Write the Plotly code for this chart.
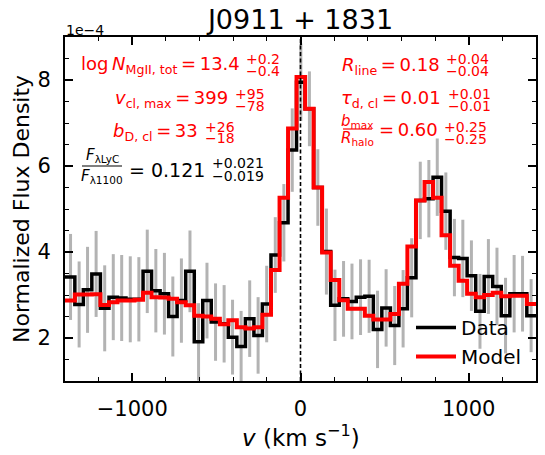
import plotly.graph_objects as go

# velocity bin centres (km/s) and normalised flux density (units of 1e-4)
velocity = [-1418, -1367, -1316, -1266, -1215, -1164, -1113, -1063, -1012, -961,
            -911, -860, -809, -759, -708, -657, -606, -556, -505, -454,
            -404, -353, -302, -252, -201, -150, -99, -49, 2, 53,
            103, 154, 205, 256, 306, 357, 408, 458, 509, 560,
            610, 661, 712, 763, 813, 864, 915, 965, 1016, 1067,
            1117, 1168, 1219, 1270, 1320, 1371, 1422]

flux_data = [3.42, 3.42, 2.78, 3.12, 3.49, 2.69, 2.95, 2.93, 2.90, 2.90,
             3.55, 3.10, 3.03, 2.50, 2.87, 3.55, 1.91, 2.87, 2.37, 2.33,
             2.02, 1.80, 2.45, 2.06, 2.79, 3.93, 4.68, 6.37, 7.95, 7.33,
             5.50, 4.01, 2.76, 2.91, 2.85, 2.95, 2.97, 2.20, 2.70, 2.29,
             2.68, 3.40, 5.20, 5.24, 5.74, 4.95, 3.87, 3.85, 3.45, 2.62,
             3.43, 3.20, 2.52, 3.03, 3.03, 2.52, 2.52]

flux_err = [1.0, 1.0, 1.0, 1.0, 1.0, 1.0, 1.0, 1.0, 1.0, 0.98,
            0.97, 0.97, 0.95, 0.93, 0.98, 0.95, 0.9, 0.88, 0.9, 0.9,
            0.87, 0.83, 0.89, 0.89, 0.89, 0.88, 0.9, 0.97, 0.9, 0.87,
            0.89, 1.0, 0.83, 0.88, 0.88, 0.88, 0.85, 0.9, 0.9, 0.92,
            0.9, 0.92, 0.9, 0.9, 0.9, 0.9, 0.9, 0.9, 0.82, 0.87,
            0.87, 0.9, 0.88, 0.9, 0.88, 0.85, 0.85]

flux_model = [2.87, 2.87, 3.01, 3.01, 3.02, 2.77, 2.83, 2.87, 2.87, 2.89,
              3.05, 2.95, 2.94, 2.91, 2.83, 2.76, 2.52, 2.50, 2.45, 2.32,
              2.41, 2.25, 2.22, 2.25, 2.54, 3.58, 5.26, 6.87, 8.07, 7.33,
              5.50, 3.99, 3.35, 2.88, 2.68, 2.68, 2.52, 2.43, 2.43, 2.56,
              3.26, 4.13, 5.20, 5.63, 5.26, 4.39, 3.68, 3.33, 3.03, 2.95,
              3.00, 3.05, 2.97, 2.98, 2.98, 2.79, 2.79]

FONT = "DejaVu Sans"
W, H = 545, 455
L, R, T, B = 65, 9, 37, 74


def px(x):
    return (x - L) / (W - L - R)


def py(y):
    return (H - B - y) / (H - T - B)


def label(x, y, s, size=18, color="red", xanchor="left", yanchor="middle", angle=0):
    return dict(x=px(x), y=py(y), xref="paper", yref="paper", text=s,
                showarrow=False, xanchor=xanchor, yanchor=yanchor, textangle=angle,
                font=dict(size=size, color=color, family=FONT))


fig = go.Figure()

# error bars
fig.add_trace(go.Scatter(
    x=velocity, y=flux_data, mode="markers",
    marker=dict(size=1, color="rgba(0,0,0,0)"),
    error_y=dict(type="data", array=flux_err, color="#b3b3b3", thickness=3, width=0),
    showlegend=False, hoverinfo="skip"))

fig.add_trace(go.Scatter(
    x=velocity, y=flux_data, mode="lines", line_shape="hvh",
    line=dict(color="black", width=3.5), name="Data"))

fig.add_trace(go.Scatter(
    x=velocity, y=flux_model, mode="lines", line_shape="hvh",
    line=dict(color="#ff0000", width=4), name="Model"))

fig.add_vline(x=0, line=dict(color="black", dash="4px,2.5px", width=1.6), layer="above")

SUP = 14
ts = "\u2009"
ann = [
    # left block
    label(242, 65, f"log{ts}<i>N</i><sub>MgII, tot</sub>{ts}={ts}13.4", xanchor="right"),
    label(282, 69, "+0.2", size=SUP, xanchor="right", yanchor="bottom"),
    label(282, 61, "\u22120.4", size=SUP, xanchor="right", yanchor="top"),
    label(230, 99, f"<i>v</i><sub>cl, max</sub>{ts}={ts}399", xanchor="right"),
    label(233, 104, "+95", size=SUP, yanchor="bottom"),
    label(233, 96, "\u221278", size=SUP, yanchor="top"),
    label(200, 132, f"<i>b</i><sub>D, cl</sub>{ts}={ts}33", xanchor="right"),
    label(203, 137, "+26", size=SUP, yanchor="bottom"),
    label(203, 128, "\u221218", size=SUP, yanchor="top"),
    label(102, 155, "<i>F</i><sub>\u03bbLyC</sub>", size=15, color="black", xanchor="center"),
    label(102, 177, "<i>F</i><sub>\u03bb1100</sub>", size=15, color="black", xanchor="center"),
    label(207, 170, "= 0.121", size=19, color="black", xanchor="right"),
    label(210, 173, "+0.021", size=SUP, color="black", yanchor="bottom"),
    label(210, 166, "\u22120.019", size=SUP, color="black", yanchor="top"),
    # right block
    label(442, 66, f"<i>R</i><sub>line</sub>{ts}={ts}0.18", xanchor="right"),
    label(444, 69, "+0.04", size=SUP, yanchor="bottom"),
    label(444, 61, "\u22120.04", size=SUP, yanchor="top"),
    label(443, 99, f"<i>\u03c4</i><sub>d, cl</sub>{ts}={ts}0.01", xanchor="right"),
    label(446, 104, "+0.01", size=SUP, yanchor="bottom"),
    label(446, 96, "\u22120.01", size=SUP, yanchor="top"),
    label(357, 121, "<i>b</i><sub>max</sub>", size=15, xanchor="center"),
    label(357, 138, "<i>R</i><sub>halo</sub>", size=15, xanchor="center"),
    label(440, 129, f"={ts}0.60", xanchor="right"),
    label(442, 137, "+0.25", size=SUP, yanchor="bottom"),
    label(442, 129, "\u22120.25", size=SUP, yanchor="top"),
    # offset text and axis titles
    label(64, 30, "1e\u22124", size=14, color="black"),
    label(21, 209, "Normalized Flux Density", size=22, color="black",
          xanchor="center", angle=-90),
    label(301, 436, "<i>v</i> (km s<sup>\u22121</sup>)", size=23, color="black",
          xanchor="center"),
]

shapes = [
    dict(type="line", xref="paper", yref="paper", x0=px(82), x1=px(122),
         y0=py(166), y1=py(166), line=dict(color="black", width=1.2)),
    dict(type="line", xref="paper", yref="paper", x0=px(343), x1=px(372),
         y0=py(129), y1=py(129), line=dict(color="red", width=1.2)),
]
for s in shapes:
    fig.add_shape(**s)

axis_common = dict(
    ticks="inside", ticklen=8, tickwidth=1.5, tickcolor="black",
    showline=True, linewidth=2, linecolor="black", mirror="ticks",
    showgrid=False, zeroline=False, automargin=False,
    tickfont=dict(size=21, family=FONT, color="black"),
)

fig.update_xaxes(
    range=[-1400, 1400], tick0=0, dtick=1000,
    minor=dict(ticks="inside", dtick=200, ticklen=4, tickwidth=1.2, tickcolor="black"),
    ticklabelstandoff=8,
    **axis_common)

fig.update_yaxes(
    range=[1, 9], tick0=0, dtick=2,
    minor=dict(ticks="inside", dtick=0.5, ticklen=4, tickwidth=1.2, tickcolor="black"),
    ticklabelstandoff=8,
    **axis_common)

fig.update_layout(
    width=W, height=H,
    margin=dict(l=L, r=R, t=T, b=B),
    plot_bgcolor="white", paper_bgcolor="white",
    font=dict(family=FONT, color="black"),
    title=dict(text="J0911 + 1831", x=0.5, xref="paper", xanchor="center",
               y=1 - 20 / H, yref="container", yanchor="middle",
               font=dict(size=27, family=FONT, color="black")),
    legend=dict(x=px(411), y=py(308), xanchor="left", yanchor="top",
                bgcolor="rgba(0,0,0,0)", font=dict(size=20, family=FONT, color="black"),
                tracegroupgap=0, itemwidth=40),
    annotations=ann,
    showlegend=True,
)

fig.write_html("out.html", config={"displayModeBar": False},
               post_script="document.body.style.margin='0px';")
